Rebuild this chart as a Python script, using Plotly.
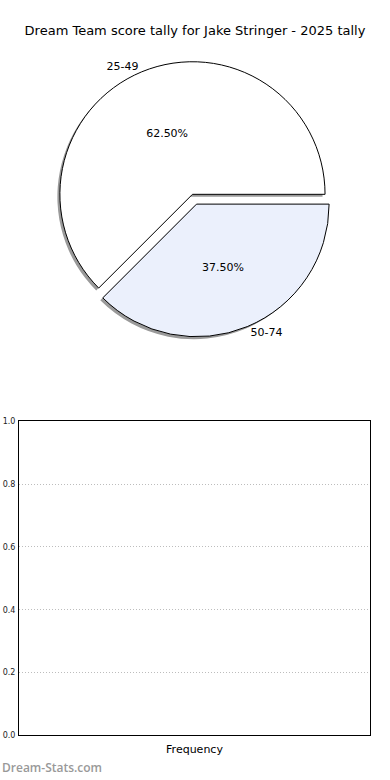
import plotly.graph_objects as go

# ---- data ----
labels = ["25-49", "50-74"]
values = [5, 3]
slice_colors = ["#FFFFFF", "#EBF0FC"]
title_text = "Dream Team score tally for Jake Stringer - 2025 tally"
ytick_vals = [0.0, 0.2, 0.4, 0.6, 0.8, 1.0]
ytick_text = ["0.0", "0.2", "0.4", "0.6", "0.8", "1.0"]
x_label = "Frequency"
watermark = "Dream-Stats.com"

# ---- layout constants ----
W, H = 390, 780
FONT = "DejaVu Sans"
pull = [0.04, 0.04]
px_l, px_r, px_t, px_b = 55, 334, 58, 337
dom_x = [px_l / W, px_r / W]
dom_y = [1 - px_b / H, 1 - px_t / H]
sh = 2.5
shadow_x = [(px_l - sh) / W, (px_r - sh) / W]
shadow_y = [1 - (px_b + sh) / H, 1 - (px_t + sh) / H]
DIR = "counterclockwise"
ROT = -135

fig = go.Figure()

# shadow
fig.add_trace(go.Pie(
    labels=labels, values=values, sort=False, direction=DIR,
    rotation=ROT, pull=pull, domain=dict(x=shadow_x, y=shadow_y),
    marker=dict(colors=["#9a9a9a", "#9a9a9a"], line=dict(width=0)),
    textinfo="none", hoverinfo="skip", showlegend=False,
))
# main pie with percentages
fig.add_trace(go.Pie(
    labels=labels, values=values, sort=False, direction=DIR,
    rotation=ROT, pull=pull, domain=dict(x=dom_x, y=dom_y),
    marker=dict(colors=slice_colors, line=dict(color="black", width=1)),
    texttemplate="%{percent:.2%}", textposition="inside",
    insidetextorientation="horizontal",
    textfont=dict(family=FONT, size=11, color="black"),
    hoverinfo="skip", showlegend=False,
))
# outside labels
fig.add_trace(go.Pie(
    labels=labels, values=values, sort=False, direction=DIR,
    rotation=ROT, pull=pull, domain=dict(x=dom_x, y=dom_y),
    marker=dict(colors=["rgba(0,0,0,0)"] * 2, line=dict(width=0)),
    texttemplate="%{label}", textposition="outside",
    textfont=dict(family=FONT, size=11, color="black"),
    hoverinfo="skip", showlegend=False,
))

# empty frequency axes
fig.add_trace(go.Scatter(x=[], y=[], xaxis="x", yaxis="y", showlegend=False))

fig.update_layout(
    width=W, height=H,
    margin=dict(l=0, r=0, t=0, b=0),
    paper_bgcolor="white", plot_bgcolor="white",
    font=dict(family=FONT, color="black"),
    title=dict(text=title_text, x=0.5, xanchor="center", y=1 - 30 / H,
               yanchor="middle", font=dict(family=FONT, size=13, color="black")),
    xaxis=dict(domain=[19 / W, 370 / W], range=[0, 1], showticklabels=False,
               ticks="", showgrid=False, zeroline=False, showline=True,
               mirror=True, linecolor="black", linewidth=1,
               title=dict(text=x_label, font=dict(family=FONT, size=11), standoff=9)),
    yaxis=dict(domain=[40 / H, 358 / H], range=[0, 1], tickvals=ytick_vals,
               ticktext=ytick_text, ticks="", showgrid=True,
               gridcolor="#bdbdbd", griddash="1px,2px", gridwidth=1,
               zeroline=False, showline=True, mirror=True, linecolor="black",
               linewidth=1, tickfont=dict(family=FONT, size=8, color="#222"),
               ticklabelstandoff=1),
    annotations=[dict(text=watermark, xref="paper", yref="paper", x=0, y=0,
                      xanchor="left", yanchor="bottom", yshift=-3, showarrow=False,
                      font=dict(family="Open Sans", size=12, color="#999999",
                                weight=600))],
)

fig.write_html("out.html")
